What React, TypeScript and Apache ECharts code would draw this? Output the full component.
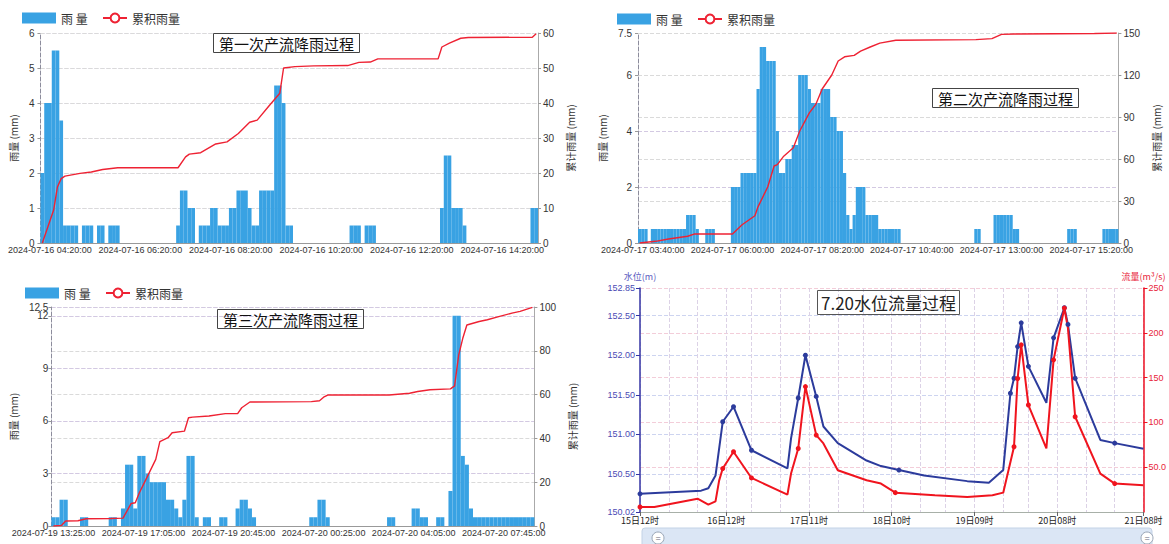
import React, { useEffect, useRef } from "react";
import * as echarts from "echarts";

const FONT = "'Liberation Sans', 'Noto Sans CJK SC', sans-serif";
const CJK = "'Noto Sans CJK SC', 'Liberation Sans', sans-serif";
const BAR = "#39a2e3";
const RED = "#ee2233";
const BLUE = "#2c3b9c";
const FLOW_RED = "#f0141e";

// ---------- chart 1 : 第一次产流降雨过程 (5-min steps from 2024-07-16 04:10) ----------
const RAIN1 = [
  2, 4, 4, 5.5, 5.5, 3.5, 0.5, 0.5, 0.5, 0.5, 0, 0.5,
  0.5, 0.5, 0, 0.5, 0.5, 0, 0.5, 0.5, 0.5, 0, 0, 0,
  0, 0, 0, 0, 0, 0, 0, 0, 0, 0, 0, 0,
  0.5, 1.5, 1.5, 1, 1, 0, 0.5, 0.5, 0.5, 1, 1, 0.5,
  0.5, 0.5, 1, 1, 1.5, 1.5, 1.5, 1, 0.5, 0.5, 1.5, 1.5,
  1.5, 1.5, 4.5, 4.5, 4, 0.5, 0.5, 0, 0, 0, 0, 0,
  0, 0, 0, 0, 0, 0, 0, 0, 0, 0, 0.5, 0.5,
  0.5, 0, 0.5, 0.5, 0.5, 0, 0, 0, 0, 0, 0, 0,
  0, 0, 0, 0, 0, 0, 0, 0, 0, 0, 1, 2.5,
  2.5, 1, 1, 1, 0.5, 0, 0, 0, 0, 0, 0, 0,
  0, 0, 0, 0, 0, 0, 0, 0, 0, 0, 1, 1,
];
const CUM1: [string, number][] = [
  ["04:10", 0], ["04:25", 9.4], ["04:30", 16], ["04:35", 18.4], ["04:40", 19.1],
  ["05:00", 19.9], ["05:15", 20.3], ["05:30", 21], ["05:50", 21.5], ["07:10", 21.5],
  ["07:20", 24.6], ["07:25", 25.4], ["07:40", 25.8], ["08:00", 28.3], ["08:15", 28.9],
  ["08:30", 31.3], ["08:45", 34.5], ["08:55", 35.1], ["09:10", 39], ["09:25", 42.8],
  ["09:30", 50], ["09:45", 50.4], ["10:10", 50.6], ["10:55", 50.7], ["11:10", 51.6],
  ["11:25", 51.7], ["11:35", 52.6], ["12:55", 52.6], ["13:00", 56], ["13:10", 57.1],
  ["13:25", 58.5], ["13:35", 58.7], ["15:00", 58.8], ["15:05", 59.8],
];
const LABELS1 = ["04:20", "06:20", "08:20", "10:20", "12:20", "14:20"];
const YTICKS1 = [0, 1, 2, 3, 4, 5, 6];

// ---------- chart 2 : 第二次产流降雨过程 (5-min steps from 2024-07-17 03:35) ----------
const RAIN2 = [
  0.5, 0.5, 0.5, 0, 0.5, 0.5, 0.5, 0.5, 0.5, 0.5, 0.5, 0.5,
  0.5, 0.5, 0.5, 1, 1, 1, 0.5, 0, 0, 0.5, 0.5, 0.5,
  0, 0, 0, 0, 0, 2, 2, 2, 2.5, 2.5, 2.5, 2.5,
  2.5, 5.5, 7, 7, 6.5, 6.5, 6.5, 4, 2.5, 2.5, 3, 3,
  3.5, 3.5, 6, 6, 6, 5.5, 5, 5, 5, 5.5, 5.5, 5.5,
  4.5, 4.5, 4, 4, 2.5, 1, 0.5, 1, 2, 2, 2, 1,
  1, 1, 1, 0.5, 0.5, 0.5, 0.5, 0.5, 0.5, 0.5, 0, 0,
  0, 0, 0, 0, 0, 0, 0, 0, 0, 0, 0, 0,
  0, 0, 0, 0, 0, 0, 0, 0, 0, 0.5, 0.5, 0,
  0, 0, 0, 1, 1, 1, 1, 1, 1, 0.5, 0.5, 0,
  0, 0, 0, 0, 0, 0, 0, 0, 0, 0, 0, 0,
  0, 0, 0.5, 0.5, 0.5, 0, 0, 0, 0, 0, 0, 0,
  0, 0.5, 0.5, 0.5, 0.5, 0.5,
];
const CUM2: [string, number][] = [
  ["03:35", 0], ["04:00", 1.2], ["04:20", 2.9], ["04:50", 4.8], ["05:00", 6.4],
  ["06:00", 6.4], ["06:15", 13], ["06:35", 19.5], ["06:40", 26], ["06:55", 40],
  ["07:05", 55], ["07:10", 56], ["07:20", 62], ["07:35", 68], ["07:45", 80],
  ["08:00", 93], ["08:10", 99], ["08:20", 110], ["08:35", 120], ["08:45", 130],
  ["08:55", 133], ["09:10", 134], ["09:20", 137], ["09:35", 140], ["09:50", 142.8],
  ["10:15", 144.8], ["12:20", 145.3], ["12:45", 146], ["13:00", 149], ["13:20", 149.3],
  ["15:25", 149.6], ["16:00", 150],
];
const LABELS2 = ["03:40", "06:00", "08:20", "10:40", "13:00", "15:20"];
const YTICKS2 = [0, 2, 4, 6, 7.5];

// ---------- chart 3 : 第三次产流降雨过程 (10-min steps from 2024-07-19 13:25) ----------
const RAIN3 = [
  0.5, 0.5, 1.5, 1.5, 0, 0, 0, 0.5, 0.5, 0, 0, 0,
  0, 0, 0.5, 0.5, 0, 1, 3.5, 3.5, 1, 4, 4, 3,
  2.5, 2.5, 2.5, 2.5, 1.5, 1.5, 1, 0.5, 1.5, 4, 4, 0.5,
  0, 0.5, 0.5, 0, 0, 0.5, 0.5, 0, 0, 1, 1.5, 1.5,
  1, 0.5, 0, 0, 0, 0, 0, 0, 0, 0, 0, 0,
  0, 0, 0, 0.5, 0.5, 1.5, 1.5, 0.5, 0, 0, 0, 0,
  0, 0, 0, 0, 0, 0, 0, 0, 0, 0, 0.5, 0.5,
  0, 0, 0, 0, 1, 1, 0.5, 0.5, 0, 0, 0.5, 0.5,
  0, 2, 12, 12, 4, 3.5, 1, 0.5, 0.5, 0.5, 0.5, 0.5,
  0.5, 0.5, 0.5, 0.5, 0.5, 0.5, 0.5, 0.5, 0.5, 0.5,
];
const CUM3: [string, number][] = [
  ["07-19 13:25", 0], ["07-19 13:45", 0.3], ["07-19 13:55", 2.3], ["07-19 14:25", 2.4],
  ["07-19 14:45", 3.3], ["07-19 15:45", 3.4], ["07-19 16:15", 3.6], ["07-19 16:35", 10.3],
  ["07-19 16:45", 10.6], ["07-19 16:55", 15.2], ["07-19 17:15", 22.8], ["07-19 17:35", 30.4],
  ["07-19 17:45", 38.5], ["07-19 18:05", 40.3], ["07-19 18:15", 42.6], ["07-19 18:45", 43.3],
  ["07-19 18:55", 49.4], ["07-19 19:05", 49.7], ["07-19 19:45", 50.2], ["07-19 20:25", 51.3],
  ["07-19 20:55", 51.3], ["07-19 21:05", 54], ["07-19 21:25", 56.6], ["07-19 23:55", 56.8],
  ["07-20 00:15", 57.2], ["07-20 00:25", 58.8], ["07-20 00:35", 59.8], ["07-20 03:05", 59.8],
  ["07-20 03:55", 60.6], ["07-20 04:15", 61.4], ["07-20 04:45", 62.2], ["07-20 05:35", 62.6],
  ["07-20 05:45", 64], ["07-20 05:55", 78], ["07-20 06:05", 85.7], ["07-20 06:15", 91.8],
  ["07-20 06:45", 93.4], ["07-20 07:05", 94.2], ["07-20 07:35", 95.7], ["07-20 08:05", 97.2],
  ["07-20 08:25", 98], ["07-20 08:55", 99.8],
];
const LABELS3 = ["07-19 13:25", "07-19 17:05", "07-19 20:45", "07-20 00:25", "07-20 04:05", "07-20 07:45"];
const YTICKS3 = [0, 3, 6, 9, 12.5];
const YTICKS3_EXTRA = [12];

// ---------- chart 4 : 7.20水位流量过程 (hourly from 15日12时 to 21日08时) ----------
const LEVEL: [string, number, number][] = [
  ["15日12时", 150.25, 1], ["16日05时", 150.29, 0], ["16日07时", 150.32, 0], ["16日09时", 150.48, 0],
  ["16日11时", 151.16, 1], ["16日14时", 151.35, 1], ["16日19时", 150.8, 1], ["17日05时", 150.57, 0],
  ["17日06时", 150.95, 0], ["17日08时", 151.46, 1], ["17日10时", 152.0, 1], ["17日13时", 151.48, 1],
  ["17日15时", 151.1, 0], ["17日19时", 150.89, 0], ["18日03时", 150.67, 0], ["18日07时", 150.6, 0],
  ["18日12时", 150.55, 1], ["18日19时", 150.48, 0], ["19日07时", 150.41, 0], ["19日13时", 150.39, 0],
  ["19日17时", 150.55, 0], ["19日19时", 151.52, 1], ["19日20时", 151.71, 1], ["19日21时", 152.11, 1],
  ["19日22时", 152.41, 1], ["20日00时", 151.86, 1], ["20日05时", 151.4, 0], ["20日07时", 152.22, 1],
  ["20日10时", 152.6, 1], ["20日11时", 152.39, 1], ["20日13时", 151.71, 1], ["20日14时", 151.6, 0],
  ["20日20时", 150.93, 0], ["21日00时", 150.89, 1], ["21日08时", 150.82, 0],
];
const FLOW: [string, number, number][] = [
  ["15日12时", 5.6, 1], ["15日16时", 5.6, 0], ["16日04时", 14.9, 0], ["16日07时", 8.2, 0],
  ["16日09时", 11.9, 0], ["16日10时", 35, 0], ["16日11时", 48.5, 1], ["16日14时", 67.2, 1],
  ["16日19时", 38, 1], ["17日05时", 19.4, 0], ["17日06时", 43, 0], ["17日08时", 70.9, 1],
  ["17日10时", 140, 1], ["17日13时", 85.8, 1], ["17日15时", 76.5, 0], ["17日19时", 46.6, 0],
  ["18日03时", 35.4, 0], ["18日07时", 31.7, 0], ["18日11时", 21.6, 1], ["18日22时", 18.7, 0],
  ["19日07时", 16.8, 0], ["19日14时", 18.7, 0], ["19日17时", 21.6, 0], ["19日20时", 72.8, 1],
  ["19日21时", 149, 1], ["19日22时", 186.6, 1], ["20日00时", 119.4, 1], ["20日05时", 70.9, 0],
  ["20日07时", 169.8, 1], ["20日10时", 227.6, 1], ["20日11时", 205, 0], ["20日13时", 106.3, 1],
  ["20日20时", 42.9, 0], ["21日00时", 31.7, 1], ["21日08时", 29.9, 0],
];
const LABELS4 = ["15日12时", "16日12时", "17日11时", "18日10时", "19日09时", "20日08时", "21日08时"];
const GRIDLINES4 = [
  "15日12时", "15日20时", "16日04时", "16日12时", "16日19时", "17日03时", "17日11时", "17日19时",
  "18日02时", "18日10时", "18日18时", "19日01时", "19日09时", "19日17时", "20日00时", "20日08时",
  "20日16时", "21日00时", "21日08时",
];

const pad = (n: number) => String(n).padStart(2, "0");

function timeCats(y: number, m: number, d: number, startMin: number, step: number, count: number) {
  const out: string[] = [];
  for (let i = 0; i < count; i++) {
    const t = startMin + i * step;
    const dd = d + Math.floor(t / 1440);
    const hm = t % 1440;
    out.push(`${y}-${pad(m)}-${pad(dd)} ${pad(Math.floor(hm / 60))}:${pad(hm % 60)}:00`);
  }
  return out;
}

function hourCats(day: number, hour: number, count: number) {
  const out: string[] = [];
  for (let i = 0; i < count; i++) {
    const t = hour + i;
    out.push(`${day + Math.floor(t / 24)}日${pad(t % 24)}时`);
  }
  return out;
}

type RainCfg = {
  cats: string[];
  labels: string[];
  rain: number[];
  cum: [string, number][];
  yTicks: number[];
  yExtra?: number[];
  title: string;
  titleLeft: number;
  titleTop: number;
  legendLeft: [number, number];
  legendTop: number;
  grid: { left: number; right: number; top: number; bottom: number };
  lMax: number;
  lInt: number;
  rMax: number;
  rInt: number;
  lGap: number;
  rGap: number;
  lMargin: number;
};

function rainOption(c: RainCfg): any {
  const labelSet = new Set(c.labels);
  const allTicks = [...c.yTicks, ...(c.yExtra || [])].sort((a, b) => a - b);
  const yAxes: any[] = [
    {
      type: "value",
      min: 0,
      max: c.lMax,
      interval: c.lInt,
      name: "雨量 (mm)",
      nameLocation: "middle",
      nameRotate: 90,
      nameGap: c.lGap,
      nameTextStyle: { fontSize: 10, color: "#333", fontFamily: CJK },
      axisLine: { show: true, lineStyle: { color: "#8c8c9c", type: "dashed" } },
      axisTick: { show: true, length: 3, lineStyle: { color: "#999" }, customValues: allTicks },
      axisLabel: {
        fontSize: 10,
        color: "#333",
        margin: c.lMargin,
        customValues: c.yTicks,
        showMaxLabel: true,
        showMinLabel: true,
        hideOverlap: false,
      },
      splitLine: { lineStyle: { type: "dashed", color: "#d3c9e2" } },
    },
    {
      type: "value",
      min: 0,
      max: c.rMax,
      interval: c.rInt,
      position: "right",
      name: "累计雨量 (mm)",
      nameLocation: "middle",
      nameRotate: 90,
      nameGap: c.rGap,
      nameTextStyle: { fontSize: 10, color: "#333", fontFamily: CJK },
      axisLine: { show: true, lineStyle: { color: "#aaa" } },
      axisTick: { show: true, length: 3, lineStyle: { color: "#999" } },
      axisLabel: { fontSize: 10, color: "#333", margin: 5, showMaxLabel: true, hideOverlap: false },
      splitLine: { lineStyle: { type: "dashed", color: "#dadada" } },
    },
  ];
  if (c.yExtra) {
    yAxes.push({
      type: "value",
      min: 0,
      max: c.lMax,
      position: "left",
      axisLine: { show: false },
      axisTick: { show: false },
      splitLine: { show: true, lineStyle: { type: "dashed", color: "#d3c9e2" } },
      axisLabel: {
        fontSize: 10,
        color: "#333",
        margin: c.lMargin,
        customValues: c.yExtra,
        showMaxLabel: true,
        showMinLabel: true,
        hideOverlap: false,
      },
    });
  }
  return {
    animation: false,
    textStyle: { fontFamily: FONT },
    title: {
      text: c.title,
      left: c.titleLeft,
      top: c.titleTop,
      borderWidth: 1,
      borderColor: "#444",
      padding: [2, 6],
      textStyle: { fontSize: 15, fontWeight: "normal", color: "#111", fontFamily: CJK, lineHeight: 16 },
    },
    legend: [
      {
        data: ["雨 量"],
        left: c.legendLeft[0],
        top: c.legendTop,
        padding: 0,
        itemWidth: 34,
        itemHeight: 11,
        icon: "rect",
        textStyle: { fontSize: 12, color: "#333", fontFamily: CJK },
      },
      {
        data: ["累积雨量"],
        left: c.legendLeft[1],
        top: c.legendTop,
        padding: 0,
        itemWidth: 24,
        itemHeight: 11,
        textStyle: { fontSize: 12, color: "#333", fontFamily: CJK },
      },
    ],
    grid: c.grid,
    xAxis: {
      type: "category",
      data: c.cats,
      boundaryGap: true,
      axisLine: { lineStyle: { color: "#999" } },
      axisTick: { show: false },
      axisLabel: {
        interval: (_i: number, v: string) => labelSet.has(v),
        fontSize: 9,
        color: "#333",
        margin: 2,
      },
      splitLine: { show: false },
    },
    yAxis: yAxes,
    series: [
      {
        name: "雨 量",
        type: "bar",
        data: c.rain,
        barCategoryGap: "0%",
        itemStyle: { color: BAR },
      },
      {
        name: "累积雨量",
        type: "line",
        yAxisIndex: 1,
        data: c.cum,
        symbol: "emptyCircle",
        symbolSize: 9,
        showSymbol: false,
        lineStyle: { color: RED, width: 1.4 },
        itemStyle: { color: RED },
      },
    ],
  };
}

function flowOption(): any {
  const cats = hourCats(15, 12, 141);
  const labelSet = new Set(LABELS4);
  const gridSet = new Set(GRIDLINES4);
  return {
    animation: false,
    textStyle: { fontFamily: FONT },
    title: {
      text: "7.20水位流量过程",
      left: 232,
      top: 28,
      borderWidth: 1,
      borderColor: "#555",
      padding: [3, 4],
      textStyle: { fontSize: 17, fontWeight: "normal", color: "#222", fontFamily: CJK, lineHeight: 19 },
    },
    grid: { left: 55, right: 25, top: 26, bottom: 32 },
    xAxis: {
      type: "category",
      data: cats,
      boundaryGap: false,
      axisLine: { lineStyle: { color: "#a8b0a8" } },
      axisTick: {
        show: true,
        length: 4,
        interval: (_i: number, v: string) => labelSet.has(v),
        lineStyle: { color: "#666" },
      },
      axisLabel: {
        interval: (_i: number, v: string) => labelSet.has(v),
        fontSize: 9,
        color: "#222",
        margin: 4,
        fontFamily: CJK,
      },
      splitLine: {
        show: true,
        interval: (_i: number, v: string) => gridSet.has(v),
        lineStyle: { type: "dashed", color: "#dcd2e6" },
      },
    },
    yAxis: [
      {
        type: "value",
        min: 150.02,
        max: 152.85,
        name: "水位(m)",
        nameLocation: "end",
        nameGap: 7,
        nameTextStyle: { color: "#5a5ac0", fontSize: 9, align: "center", fontFamily: CJK },
        axisLine: { show: true, lineStyle: { color: "#3535a5", width: 1.5 } },
        axisTick: { show: true, length: 4, lineStyle: { color: "#3535a5" } },
        axisLabel: {
          formatter: (v: number) => v.toFixed(2),
          color: "#4a4ab4",
          fontSize: 9,
          margin: 5,
          showMaxLabel: true,
          showMinLabel: true,
          hideOverlap: false,
        },
        splitLine: { lineStyle: { type: "dashed", color: "#cdd4f0" } },
      },
      {
        type: "value",
        min: 0,
        max: 250,
        interval: 50,
        position: "right",
        name: "流量(m³/s)",
        nameLocation: "end",
        nameGap: 7,
        nameTextStyle: { color: "#e8243a", fontSize: 9, align: "center", fontFamily: CJK },
        axisLine: { show: true, lineStyle: { color: "#ee1122", width: 1.5 } },
        axisTick: { show: true, length: 4, lineStyle: { color: "#ee1122" } },
        axisLabel: {
          formatter: (v: number) => v.toPrecision(3),
          showMinLabel: false,
          color: "#e8243a",
          fontSize: 9,
          margin: 5,
        },
        splitLine: { lineStyle: { type: "dashed", color: "#f3cdd9" } },
      },
    ],
    series: [
      {
        name: "水位",
        type: "line",
        yAxisIndex: 0,
        data: LEVEL.map(([c, v, m]) => ({ value: [c, v], symbol: m ? "circle" : "none" })),
        symbolSize: 5,
        showSymbol: true,
        showAllSymbol: true,
        lineStyle: { color: BLUE, width: 2 },
        itemStyle: { color: BLUE },
      },
      {
        name: "流量",
        type: "line",
        yAxisIndex: 1,
        data: FLOW.map(([c, v, m]) => ({ value: [c, v], symbol: m ? "circle" : "none" })),
        symbolSize: 5,
        showSymbol: true,
        showAllSymbol: true,
        lineStyle: { color: FLOW_RED, width: 2 },
        itemStyle: { color: FLOW_RED },
      },
    ],
    graphic: [
      {
        type: "rect",
        shape: { x: 57, y: 266, width: 510, height: 26, r: 3 },
        style: { fill: "#dbe6f5", stroke: "#c3d2e6", lineWidth: 1 },
      },
      { type: "circle", shape: { cx: 73, cy: 276, r: 6 }, style: { fill: "#fff", stroke: "#9aa6b6" } },
      { type: "text", x: 73, y: 276, style: { text: "=", fill: "#667", fontSize: 9, align: "center", verticalAlign: "middle" } },
      { type: "circle", shape: { cx: 562, cy: 276, r: 6 }, style: { fill: "#fff", stroke: "#9aa6b6" } },
      { type: "text", x: 562, y: 276, style: { text: "=", fill: "#667", fontSize: 9, align: "center", verticalAlign: "middle" } },
    ],
  };
}

function buildOptions(): any[] {
  const cats1 = timeCats(2024, 7, 16, 4 * 60 + 10, 5, RAIN1.length);
  const cats2 = timeCats(2024, 7, 17, 3 * 60 + 35, 5, RAIN2.length);
  const cats3 = timeCats(2024, 7, 19, 13 * 60 + 25, 10, RAIN3.length);
  const o1 = rainOption({
    cats: cats1,
    labels: LABELS1.map((t) => `2024-07-16 ${t}:00`),
    rain: RAIN1,
    cum: CUM1.map(([t, v]) => [`2024-07-16 ${t}:00`, v] as [string, number]),
    yTicks: YTICKS1,
    title: "第一次产流降雨过程",
    titleLeft: 213,
    titleTop: 33,
    legendLeft: [22, 102],
    legendTop: 12,
    grid: { left: 37, right: 47, top: 33, bottom: 19 },
    lMax: 6, lInt: 1, rMax: 60, rInt: 10, lGap: 20, rGap: 18, lMargin: 6,
  });
  const o2 = rainOption({
    cats: cats2,
    labels: LABELS2.map((t) => `2024-07-17 ${t}:00`),
    rain: RAIN2,
    cum: CUM2.map(([t, v]) => [`2024-07-17 ${t}:00`, v] as [string, number]),
    yTicks: YTICKS2,
    title: "第二次产流降雨过程",
    titleLeft: 347,
    titleTop: 88,
    legendLeft: [32, 112],
    legendTop: 13,
    grid: { left: 53, right: 31, top: 33, bottom: 19 },
    lMax: 7.5, lInt: 2, rMax: 150, rInt: 30, lGap: 26, rGap: 21, lMargin: 6,
  });
  const o3 = rainOption({
    cats: cats3,
    labels: LABELS3.map((t) => `2024-${t}:00`),
    rain: RAIN3,
    cum: CUM3.map(([t, v]) => [`2024-${t}:00`, v] as [string, number]),
    yTicks: YTICKS3,
    yExtra: YTICKS3_EXTRA,
    title: "第三次产流降雨过程",
    titleLeft: 217,
    titleTop: 37,
    legendLeft: [25, 105],
    legendTop: 15,
    grid: { left: 49, right: 49, top: 35, bottom: 18 },
    lMax: 12.5, lInt: 3, rMax: 100, rInt: 20, lGap: 28, rGap: 21, lMargin: 3,
  });
  return [o1, o2, o3, flowOption()];
}

const BOXES = [
  { left: 0, top: 0, width: 585, height: 262 },
  { left: 585, top: 0, width: 584, height: 262 },
  { left: 0, top: 272, width: 585, height: 272 },
  { left: 585, top: 262, width: 584, height: 282 },
];

export default function App() {
  const r0 = useRef<HTMLDivElement>(null);
  const r1 = useRef<HTMLDivElement>(null);
  const r2 = useRef<HTMLDivElement>(null);
  const r3 = useRef<HTMLDivElement>(null);
  const refs = [r0, r1, r2, r3];

  useEffect(() => {
    const opts = buildOptions();
    const charts = refs.map((r, i) => {
      const c = echarts.init(r.current as HTMLDivElement, undefined, { renderer: "svg" });
      c.setOption(opts[i]);
      return c;
    });
    return () => charts.forEach((c) => c.dispose());
  }, []);

  return (
    <div
      style={{
        position: "fixed",
        left: 0,
        top: 0,
        width: 1169,
        height: 544,
        background: "#fff",
        overflow: "hidden",
      }}
    >
      {BOXES.map((b, i) => (
        <div
          key={i}
          ref={refs[i]}
          style={{ position: "absolute", left: b.left, top: b.top, width: b.width, height: b.height }}
        />
      ))}
    </div>
  );
}
